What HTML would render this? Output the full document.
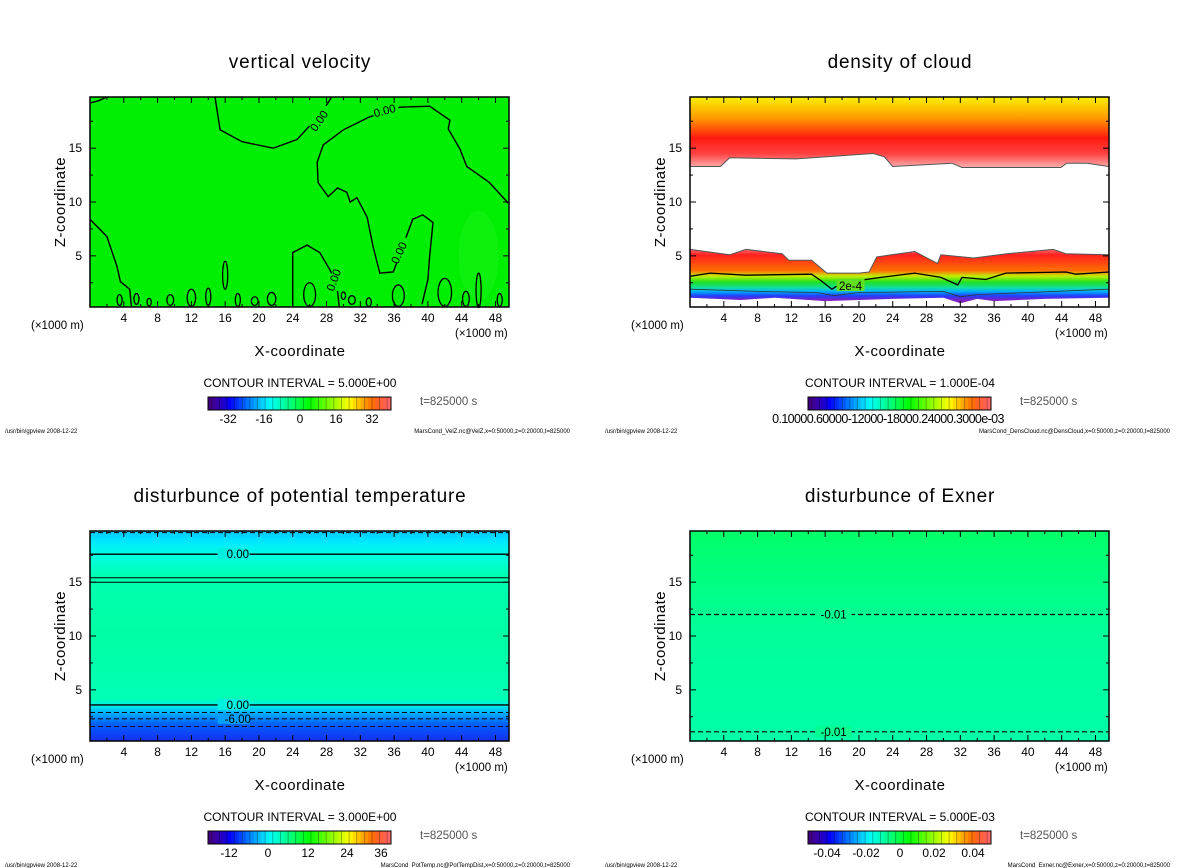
<!DOCTYPE html>
<html><head><meta charset="utf-8"><style>
html,body{margin:0;padding:0;background:#fff;}
svg{display:block;font-family:"Liberation Sans",sans-serif;}
</style></head><body>
<svg id="fig" width="1200" height="868" viewBox="0 0 1200 868" xmlns="http://www.w3.org/2000/svg">
<defs>
<linearGradient id="gTop" x1="0" y1="0" x2="0" y2="1">
<stop offset="0" stop-color="#f8f000"/><stop offset="0.3" stop-color="#ff9a00"/><stop offset="0.58" stop-color="#ff1a10"/><stop offset="0.8" stop-color="#ff4040"/><stop offset="1" stop-color="#ffb0b0"/></linearGradient>
<linearGradient id="gLow" gradientUnits="userSpaceOnUse" x1="0" y1="247" x2="0" y2="300">
<stop offset="0" stop-color="#ff8888"/><stop offset="0.15" stop-color="#ff2020"/><stop offset="0.45" stop-color="#ff7000"/><stop offset="0.55" stop-color="#c0f000"/><stop offset="0.66" stop-color="#20e020"/><stop offset="0.77" stop-color="#10e0a0"/><stop offset="0.84" stop-color="#00b0ff"/><stop offset="0.92" stop-color="#2040ff"/><stop offset="1" stop-color="#8020c0"/></linearGradient>
<linearGradient id="gPT" gradientUnits="userSpaceOnUse" x1="0" y1="531" x2="0" y2="741">
<stop offset="0" stop-color="#00c8ff"/><stop offset="0.05" stop-color="#00e8ff"/><stop offset="0.12" stop-color="#00ffe0"/><stop offset="0.22" stop-color="#00ffb0"/><stop offset="0.5" stop-color="#00ffa4"/><stop offset="0.8" stop-color="#00ffb4"/><stop offset="0.83" stop-color="#00f0e8"/><stop offset="0.87" stop-color="#00a8ff"/><stop offset="0.92" stop-color="#0060ff"/><stop offset="1" stop-color="#1830f0"/></linearGradient>
<linearGradient id="gEx" gradientUnits="userSpaceOnUse" x1="0" y1="531" x2="0" y2="741">
<stop offset="0" stop-color="#00ff68"/><stop offset="0.45" stop-color="#00ff98"/><stop offset="1" stop-color="#00ffa8"/></linearGradient>
</defs>
<g id="root"></g>
</svg>
<script>
// ---- data (km) ----
const xTicks=[4,8,12,16,20,24,28,32,36,40,44,48];
const zTicks=[5,10,15];
const cb1Labels=["-32","-16","0","16","32"];
const cb2Labels=["0.10000.60000-12000-18000.24000.3000e-03"];
const cb3Labels=["-12","0","12","24","36"];
const cb4Labels=["-0.04","-0.02","0","0.02","0.04"];
// vertical velocity contours [x,z]
const vvLineA=[[0,19.2],[1,19.4],[2,19.75]];
const vvLineB=[[14.8,19.75],[15.4,16.7],[18,15.6],[21.7,15],[24.5,15.8],[26.4,17.4],[28,19],[28.6,19.75]];
const vvLineC=[[49.5,9.9],[47.3,11.8],[44.6,13.3],[43.8,14.9],[42.4,16.8],[42.6,17.6],[40.2,18.9],[36.7,18.8],[33.1,17.9],[30,16.7],[27.6,15.3],[26.9,13.7],[27,11.8],[28.2,10.5],[29.3,11.3],[30.4,10.9],[30.8,10],[31.6,10.4],[32.8,8.6],[33.5,5.9],[34.3,3.4],[35.9,3.5],[38.2,8.4],[39.4,8.8],[40.6,8.1],[40.2,4.9],[40,2.8],[39.3,0.5]];
const vvLineD=[[0,8.4],[2,6.8],[3.2,4],[3.6,2.6],[4.7,1.9],[4.9,0.3]];
const vvLineE=[[24,0.3],[24,1.2],[24,5.3],[25.7,6],[27.2,5.3],[28.4,3.7],[29.2,2.4],[29.5,0.3]];
const vvBlobs=[[3.5,0.9,0.3,0.5],[5.5,1.0,0.3,0.5],[7,0.7,0.25,0.35],[9.5,0.9,0.4,0.5],[12,1.1,0.5,0.8],[14,1.2,0.3,0.8],[17.5,0.9,0.3,0.6],[19.5,0.8,0.4,0.4],[21.5,1.0,0.5,0.6],[26,1.4,0.7,1.1],[30,1.3,0.25,0.35],[31,0.9,0.4,0.4],[33,0.7,0.3,0.4],[36.5,1.3,0.7,1.0],[42,1.6,0.8,1.3],[44.5,1.0,0.4,0.7],[46,1.8,0.3,1.6],[48.5,0.9,0.3,0.6],[16,3.2,0.3,1.3]];
// density of cloud
const dcTopEdge=[[0,13.3],[3.6,13.3],[4.7,14.1],[12.6,14],[21.7,14.5],[23,14.2],[24,13.3],[31,13.6],[32.2,13.2],[43.9,13.2],[44.6,13.6],[47,13.6],[49.6,13.3]];
const dcLowTop=[[0,5.6],[4.7,5.1],[6.6,5.6],[10.9,5.2],[11.7,4.6],[14.4,4.6],[16.2,3.4],[20,3.4],[21.2,3.5],[22.1,4.9],[26.6,5.4],[29.3,4.3],[29.7,5.1],[33.6,4.8],[37.5,5.2],[43,5.6],[44.5,5.2],[49.6,5.1]];
const dcLowBot=[[0,1.1],[6,0.9],[10,1.1],[16,0.8],[20,0.9],[24,1.0],[30,1.1],[32,0.6],[34,1.0],[36,0.8],[42,1.0],[49.6,1.1]];
const dc2e4=[[0,3.1],[2.4,3.4],[6.6,3.2],[14.4,3.3],[15.5,2.7],[16.8,1.9],[18,2.5],[22.6,3.0],[26.6,3.4],[29.7,3.0],[31.7,2.3],[32.2,3.0],[35,2.8],[37.4,3.4],[44.5,3.5],[45.7,3.3],[49.6,3.5]];
const dcBlueLine=[[0,1.9],[8,1.7],[15,1.6],[17,1.3],[20,1.6],[30,1.7],[32,1.2],[34,1.4],[40,1.6],[49.6,1.9]];
// potential temperature levels
const ptSolid=[17.6,15.4,15.0,3.6];
const ptDashed=[19.6,2.9,2.3,1.6];
const ptLabels=[["0.00",17.6],["0.00",3.6],["-6.00",2.3]];
// exner
const exDashed=[12.0,1.1];

const NS="http://www.w3.org/2000/svg";
const root=document.getElementById('root');
function el(tag,attrs,parent,text){const e=document.createElementNS(NS,tag);for(const k in attrs)e.setAttribute(k,attrs[k]);if(text!==undefined)e.textContent=text;(parent||root).appendChild(e);return e;}
function mkX(ox){return x=>ox+x/49.6*419;}
function mkZ(oy){return z=>oy+210-(z-0.25)/19.5*210;}
function pts(arr,X,Z){return arr.map(p=>X(p[0]).toFixed(1)+','+Z(p[1]).toFixed(1)).join(' ');}

function frame(g,ox,oy,X,Z,title,interval,cbLabels,cbPos,footR){
  el('rect',{x:ox,y:oy,width:419,height:210,fill:'none',stroke:'#000','stroke-width':1.5},g);
  const t=el('g',{},g);
  
  for(let x=2;x<50;x+=2){const L=(x%4===0)?6:3;
    el('line',{x1:X(x),x2:X(x),y1:oy,y2:oy+L,stroke:'#000'},t);
    el('line',{x1:X(x),x2:X(x),y1:oy+210,y2:oy+210-L,stroke:'#000'},t);}
  for(let z=2.5;z<20;z+=2.5){const L=(z%5===0)?6:3;
    el('line',{x1:ox,x2:ox+L,y1:Z(z),y2:Z(z),stroke:'#000'},t);
    el('line',{x1:ox+419,x2:ox+419-L,y1:Z(z),y2:Z(z),stroke:'#000'},t);}
  xTicks.forEach(v=>{const e=el('text',{x:X(v),y:oy+225,'font-size':12,'text-anchor':'middle'},g,String(v));
    });
  zTicks.forEach(v=>{const e=el('text',{x:ox-8,y:Z(v)+4,'font-size':12,'text-anchor':'end'},g,String(v));
    });
  let e;
  e=el('text',{x:ox-59,y:oy+232,'font-size':11.5},g,'(×1000 m)');
  e=el('text',{x:ox+365,y:oy+240,'font-size':11.5},g,'(×1000 m)');
  e=el('text',{x:ox+210,y:oy+259,'font-size':15,'text-anchor':'middle','letter-spacing':0.5},g,'X-coordinate');
  e=el('text',{x:0,y:0,'font-size':15,'text-anchor':'middle','letter-spacing':0.5,transform:`translate(${ox-25},${oy+105}) rotate(-90)`},g,'Z-coordinate');
  e=el('text',{x:ox+210,y:oy-29,'font-size':19,'text-anchor':'middle','letter-spacing':0.8},g,title);
  e=el('text',{x:ox+210,y:oy+290,'font-size':12,'text-anchor':'middle'},g,'CONTOUR INTERVAL = '+interval);
  const cb=el('g',{},g);
  const cx=ox+118,cw=183,cy=oy+300,ch=13,n=48;
  for(let i=0;i<n;i++){const f=i/(n-1);let h=270-f*270;let l=f<0.1?25+f*200:(f>0.9?50+(f-0.9)*200:50);
    el('rect',{x:cx+i*cw/n,y:cy,width:cw/n+0.5,height:ch,fill:`hsl(${h},100%,${l}%)`},cb);
    if(i%2==1)el('line',{x1:cx+i*cw/n,x2:cx+i*cw/n,y1:cy,y2:cy+ch,stroke:'rgba(0,0,0,0.35)','stroke-width':0.8},cb);}
  el('rect',{x:cx,y:cy,width:cw,height:ch,fill:'none',stroke:'#000'},cb);
  if(cbLabels.length===1){el('text',{x:cx+80,y:cy+26,'font-size':12.5,'text-anchor':'middle','letter-spacing':-0.6},cb,cbLabels[0]);}
  else cbLabels.forEach((s,i)=>{el('text',{x:cbPos[i],y:cy+26,'font-size':12,'text-anchor':'middle'},cb,s);});
  e=el('text',{x:ox+330,y:cy+8,'font-size':11.5,fill:'#555'},g,'t=825000 s');
  e=el('text',{x:ox-85,y:oy+336,'font-size':6},g,'/usr/bin/gpview   2008-12-22');
  e=el('text',{x:ox+480,y:oy+336,'font-size':6,'text-anchor':'end'},g,footR);
}
function line(g,arr,X,Z,name,w,dash){const e=el('polyline',{points:pts(arr,X,Z),fill:'none',stroke:'#000','stroke-width':w||1.4,'stroke-dasharray':dash||'none'},g);
  return e;}
function lbl(g,x,y,s,rot){const e=el('text',{x:x,y:y,'font-size':11.5,'text-anchor':'middle',transform:rot?`rotate(${rot} ${x} ${y})`:''},g,s);
  
  return e;}

// Panel 1
(function(){const ox=90,oy=97,X=mkX(ox),Z=mkZ(oy);const g=el('g',{});

let r=el('rect',{x:ox,y:oy,width:419,height:210,fill:'#00ee00'},g);
el('ellipse',{cx:X(46),cy:Z(5),rx:20,ry:45,fill:'#30f530',opacity:0.3},g);
[vvLineA,vvLineB,vvLineC,vvLineD,vvLineE].forEach((a,i)=>line(g,a,X,Z,'contour-line-'+(i+1)));
vvBlobs.forEach(b=>{const e=el('ellipse',{cx:X(b[0]),cy:Z(b[1]),rx:b[2]*8.45,ry:b[3]*10.77,fill:'none',stroke:'#000','stroke-width':1.3},g);
  });
[[X(27.5),Z(17.7),-55],[X(35),Z(18.5),-15],[X(37),Z(5.5),-65],[X(29.3),Z(3),-70]].forEach(p=>{
  el('rect',{x:p[0]-13,y:p[1]-7,width:26,height:12,fill:'#00ee00',transform:`rotate(${p[2]} ${p[0]} ${p[1]})`},g);lbl(g,p[0],p[1]+4,'0.00',p[2]);});
frame(g,ox,oy,X,Z,'vertical velocity','5.000E+00',cb1Labels,[228,264,300,336,372],'MarsCond_VelZ.nc@VelZ,x=0:50000,z=0:20000,t=825000');
})();
// Panel 2
(function(){const ox=690,oy=97,X=mkX(ox),Z=mkZ(oy);const g=el('g',{});

let top=[[0,19.75]].concat(dcTopEdge).concat([[49.6,19.75]]);
let e=el('polygon',{points:pts(top,X,Z),fill:'url(#gTop)'},g);
line(g,dcTopEdge,X,Z,'upper-cloud-edge',1,'none').setAttribute('stroke','#555');
let low=dcLowTop.concat(dcLowBot.slice().reverse());
e=el('polygon',{points:pts(low,X,Z),fill:'url(#gLow)'},g);
line(g,dcLowTop,X,Z,'lower-cloud-edge',1).setAttribute('stroke','#555');
line(g,dc2e4,X,Z,'contour-2e-4',1.3);
line(g,dcBlueLine,X,Z,'contour-low',0.8).setAttribute('stroke','#333');
el('rect',{x:X(19)-14,y:Z(2.2)-7,width:28,height:12,fill:'#60e020'},g);
lbl(g,X(19),Z(2.2)+4,'2e-4');
frame(g,ox,oy,X,Z,'density of cloud','1.000E-04',cb2Labels,[],'MarsCond_DensCloud.nc@DensCloud,x=0:50000,z=0:20000,t=825000');
})();
// Panel 3
(function(){const ox=90,oy=531,X=mkX(ox),Z=mkZ(oy);const g=el('g',{});

let e=el('rect',{x:ox,y:oy,width:419,height:210,fill:'url(#gPT)'},g);
ptSolid.forEach((z,i)=>line(g,[[0,z],[49.6,z]],X,Z,'contour-solid',i==1||i==2?1:1.4));
ptDashed.forEach(z=>line(g,[[0,z],[49.6,z]],X,Z,'contour-dashed',1,'5,3'));
ptLabels.forEach(p=>{el('rect',{x:X(17)-16,y:Z(p[1])-6,width:32,height:11,fill:p[1]<3?'#00a0ff':'#00f0e0'},g);lbl(g,X(17.5),Z(p[1])+4,p[0]);});
frame(g,ox,oy,X,Z,'disturbunce of potential temperature','3.000E+00',cb3Labels,[229,268,308,347,381],'MarsCond_PotTemp.nc@PotTempDist,x=0:50000,z=0:20000,t=825000');
})();
// Panel 4
(function(){const ox=690,oy=531,X=mkX(ox),Z=mkZ(oy);const g=el('g',{});

let e=el('rect',{x:ox,y:oy,width:419,height:210,fill:'url(#gEx)'},g);
exDashed.forEach(z=>{line(g,[[0,z],[49.6,z]],X,Z,'contour-dashed',1.2,'5,3');
  el('rect',{x:X(17)-18,y:Z(z)-6,width:36,height:11,fill:'#00ff90'},g);lbl(g,X(17),Z(z)+4,'-0.01');});
frame(g,ox,oy,X,Z,'disturbunce of Exner','5.000E-03',cb4Labels,[827,866,900,934,973],'MarsCond_Exner.nc@Exner,x=0:50000,z=0:20000,t=825000');
})();
</script>
</body></html>
